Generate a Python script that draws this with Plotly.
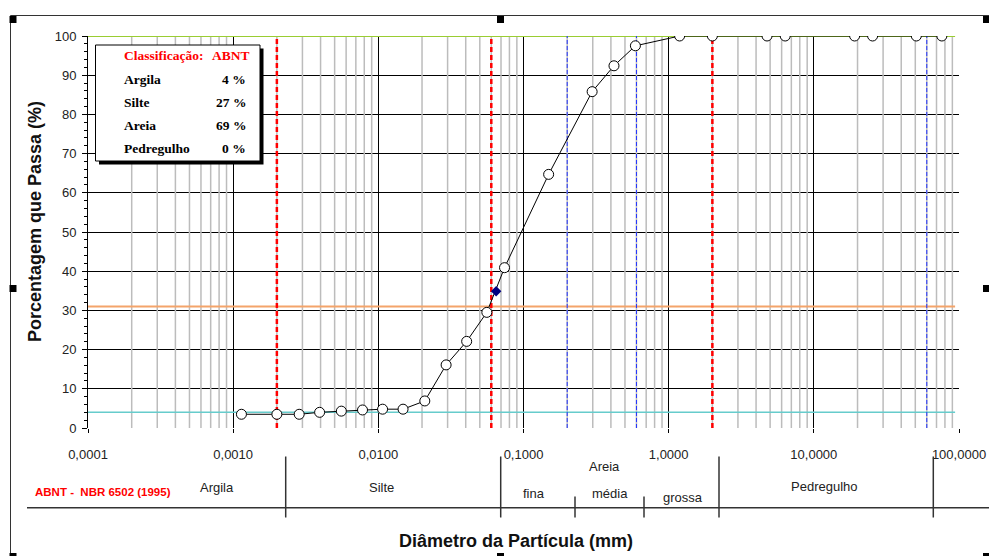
import plotly.graph_objects as go

# Grain-size distribution (sieve + sedimentation)
diam_mm = [0.00114, 0.0020, 0.00285, 0.00394, 0.00556, 0.00778, 0.0107, 0.0148,
           0.0209, 0.0293, 0.0406, 0.0559, 0.074, 0.149, 0.297, 0.42, 0.59,
           1.19, 2.0, 4.76, 6.35, 19.1, 25.4, 50.8, 76.2]
passing_pct = [3.5, 3.5, 3.5, 4.0, 4.3, 4.6, 4.8, 4.8,
               6.9, 16.1, 22.1, 29.5, 40.9, 64.7, 85.8, 92.4, 97.5,
               100, 100, 100, 100, 100, 100, 100, 100]

# Interpolated point at the silt/sand boundary
marker_d = [0.0648]
marker_p = [34.9]

# ABNT NBR 6502 fraction summary (%)
fraction_names = ["Argila", "Silte", "Areia", "Pedregulho"]
fraction_pct = [4, 27, 69, 0]

# Class limits (mm)
abnt_limits = [0.002, 0.06, 2.0]
sand_limits = [0.2, 0.6, 60.0]

x_tickvals = [0.0001, 0.001, 0.01, 0.1, 1, 10, 100]
x_ticktext = ["0,0001", "0,0010", "0,0100", "0,1000", "1,0000", "10,0000", "100,0000"]

# Plot-area geometry in pixels
L, T, W, H = 88, 36, 871, 392
FIG_W, FIG_H = 989, 556


def px(x):
    return (x - L) / W


def py(y):
    return (T + H - y) / H


SANS = "Liberation Sans, Arial, sans-serif"
SERIF = "Liberation Serif, Times New Roman, serif"

fig = go.Figure()

# minor vertical grid (2..9 within each decade)
mx, my = [], []
for d in range(-4, 2):
    for k in range(2, 10):
        v = k * 10 ** d
        mx += [v, v, None]
        my += [0, 100, None]
fig.add_trace(go.Scatter(x=mx, y=my, mode="lines",
                         line=dict(color="#bcbcbc", width=1.5),
                         hoverinfo="skip", showlegend=False))

# horizontal reference levels
x_end = 94
clay = fraction_pct[0]
fines = fraction_pct[0] + fraction_pct[1]
fig.add_trace(go.Scatter(x=[0.0001, x_end], y=[clay, clay], mode="lines",
                         line=dict(color="#66cccc", width=1.5), showlegend=False))
fig.add_trace(go.Scatter(x=[0.0001, x_end], y=[fines, fines], mode="lines",
                         line=dict(color="#f4a46a", width=2), showlegend=False))
fig.add_trace(go.Scatter(x=[0.0001, x_end], y=[100, 100], mode="lines",
                         line=dict(color="#9acd32", width=2.2), showlegend=False))

# class limits
for v in abnt_limits:
    fig.add_trace(go.Scatter(x=[v, v], y=[0, 100], mode="lines",
                             line=dict(color="#ff0000", width=2.5, dash="5px,3px"),
                             showlegend=False))
for v in sand_limits:
    fig.add_trace(go.Scatter(x=[v, v], y=[0, 100], mode="lines",
                             line=dict(color="#2233ff", width=1, dash="4px,2px"),
                             showlegend=False))

# curve
fig.add_trace(go.Scatter(x=diam_mm, y=passing_pct, mode="lines+markers",
                         line=dict(color="black", width=1),
                         marker=dict(symbol="circle", size=10, color="white",
                                     line=dict(color="black", width=1)),
                         showlegend=False))
fig.add_trace(go.Scatter(x=marker_d, y=marker_p, mode="markers",
                         marker=dict(symbol="diamond", size=8, color="#000080"),
                         showlegend=False))

shapes = []
ann = []

# outer chart frame and selection handles
shapes.append(dict(type="line", xref="paper", yref="paper",
                   x0=px(10.5), x1=px(989), y0=py(15.5), y1=py(15.5),
                   line=dict(color="#333", width=1)))
shapes.append(dict(type="line", xref="paper", yref="paper",
                   x0=px(10.5), x1=px(10.5), y0=py(15.5), y1=py(556),
                   line=dict(color="#333", width=1)))
for hx in (9.5, 497, 983):
    for hy in (16, 285, 553):
        if hx == 497 and hy == 285:
            continue
        shapes.append(dict(type="rect", xref="paper", yref="paper",
                           x0=px(hx), x1=px(hx + 7), y0=py(hy), y1=py(hy + 7),
                           fillcolor="black", line=dict(width=0)))

# summary box with drop shadow
shapes.append(dict(type="rect", xref="paper", yref="paper",
                   x0=px(99), x1=px(263.5), y0=py(48.5), y1=py(164.5),
                   fillcolor="black", line=dict(width=0)))
shapes.append(dict(type="rect", xref="paper", yref="paper",
                   x0=px(95.5), x1=px(260), y0=py(45), y1=py(161),
                   fillcolor="white", line=dict(color="black", width=1)))

ann.append(dict(text="<b>Classificação:</b>", x=px(122), y=py(56), xanchor="left",
                font=dict(family=SERIF, size=13.5, color="#ff0000")))
ann.append(dict(text="<b>ABNT</b>", x=px(210), y=py(56), xanchor="left",
                font=dict(family=SERIF, size=13.5, color="#ff0000")))
row_y = [79.5, 102, 125.5, 148.5]
for name, val, yy in zip(fraction_names, fraction_pct, row_y):
    ann.append(dict(text=f"<b>{name}</b>", x=px(122), y=py(yy), xanchor="left",
                    font=dict(family=SERIF, size=13.5, color="black")))
    ann.append(dict(text=f"<b>{val} %</b>", x=px(247.5), y=py(yy), xanchor="right",
                    font=dict(family=SERIF, size=13.5, color="black")))

# classification scale beneath the axis
tbl = dict(color="#333", width=1.5)
shapes.append(dict(type="line", xref="paper", yref="paper",
                   x0=px(27), x1=px(989), y0=py(507.7), y1=py(507.7), line=tbl))
for vx in (285.7, 500.7, 719, 933.3):
    shapes.append(dict(type="line", xref="paper", yref="paper",
                       x0=px(vx), x1=px(vx), y0=py(456.5), y1=py(517.5), line=tbl))
for vx in (575, 644):
    shapes.append(dict(type="line", xref="paper", yref="paper",
                       x0=px(vx), x1=px(vx), y0=py(496.5), y1=py(517.5), line=tbl))

ann.append(dict(text="<b>ABNT -\u00a0 NBR 6502 (1995)</b>", x=px(102.5), y=py(491.7),
                xanchor="center", font=dict(family=SANS, size=11.5, color="#ff0000")))
scale_labels = [("Argila", 217, 487.3), ("Silte", 381.7, 487.3), ("Areia", 604, 466),
                ("fina", 534, 493), ("média", 609.7, 493), ("grossa", 683.3, 497.7),
                ("Pedregulho", 824.7, 486.7)]
for t, xx, yy in scale_labels:
    ann.append(dict(text=t, x=px(xx), y=py(yy), xanchor="center",
                    font=dict(family=SANS, size=13, color="#222")))

# axis titles
ann.append(dict(text="<b>Diâmetro da Partícula (mm)</b>", x=px(516), y=py(541),
                xanchor="center", font=dict(family=SANS, size=18, color="#111")))
ann.append(dict(text="<b>Porcentagem que Passa (%)</b>", x=px(35), y=py(222),
                xanchor="center", textangle=-90,
                font=dict(family=SANS, size=18, color="#111")))

for a in ann:
    a.setdefault("xref", "paper")
    a.setdefault("yref", "paper")
    a.setdefault("yanchor", "middle")
    a["showarrow"] = False

fig.update_layout(
    width=FIG_W, height=FIG_H,
    margin=dict(l=L, r=FIG_W - L - W, t=T, b=FIG_H - T - H, pad=0, autoexpand=False),
    paper_bgcolor="white", plot_bgcolor="white",
    shapes=shapes, annotations=ann, showlegend=False,
    xaxis=dict(type="log", range=[-4, 2], tickvals=x_tickvals, ticktext=x_ticktext,
               automargin=False,
               showgrid=True, gridcolor="black", gridwidth=1.3,
               ticks="outside", ticklen=4, tickcolor="black", tickwidth=1,
               showline=False, zeroline=False, ticklabelstandoff=10,
               tickfont=dict(family=SANS, size=13, color="#222")),
    yaxis=dict(range=[0, 100], dtick=10, showgrid=True, gridcolor="black",
               gridwidth=1, ticks="outside", ticklen=5, tickcolor="black",
               automargin=False,
               showline=True, linecolor="black", linewidth=1, zeroline=False,
               ticklabelstandoff=3,
               minor=dict(dtick=2, ticks="outside", ticklen=3, tickcolor="black",
                          showgrid=False),
               tickfont=dict(family=SANS, size=13, color="#222")),
)

fig.write_html("out.html")
